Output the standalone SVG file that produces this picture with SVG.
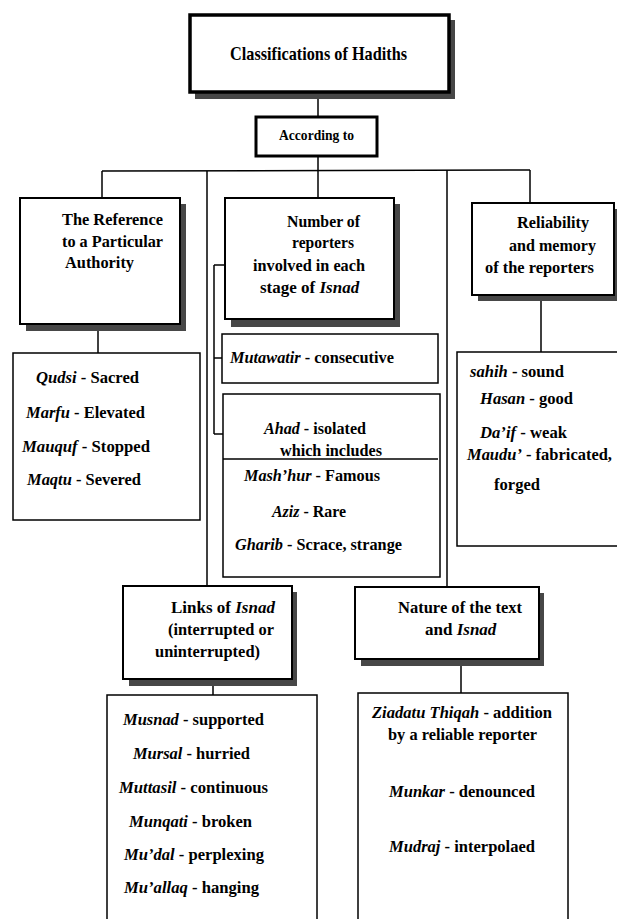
<svg xmlns="http://www.w3.org/2000/svg" width="617" height="919" viewBox="0 0 617 919">
<style>
text{font-family:"Liberation Serif","Times New Roman",serif;font-weight:bold;fill:#000}
.t{font-size:19px}
.a{font-size:15px}
.h{font-size:17.5px}
.hn{font-size:17px}
.s{font-size:16.5px}
.i{font-style:italic}
.box{fill:#fff;stroke:#000;stroke-width:2}
.cbox{fill:#fff;stroke:#000;stroke-width:1.5}
.sh{fill:#474747}
.ln{stroke:#000;stroke-width:1.5;fill:none}
</style>
<rect width="617" height="919" fill="#fff"/>
<g id="connectors" class="ln">
<line x1="318" y1="92" x2="318" y2="117"/>
<line x1="318" y1="156" x2="318" y2="198"/>
<line x1="102" y1="171" x2="530" y2="170"/>
<line x1="102" y1="171" x2="102" y2="198"/>
<line x1="530" y1="170" x2="530" y2="203"/>
<line x1="207" y1="171" x2="207" y2="586"/>
<line x1="447" y1="170" x2="447" y2="587"/>
<line x1="98" y1="330" x2="98" y2="353"/>
<line x1="214" y1="265" x2="214" y2="434"/>
<line x1="214" y1="265" x2="225" y2="265"/>
<line x1="214" y1="358" x2="222" y2="358"/>
<line x1="214" y1="434" x2="223" y2="434"/>
<line x1="541" y1="300" x2="541" y2="352"/>
<line x1="213" y1="685" x2="213" y2="695"/>
<line x1="461" y1="665" x2="461" y2="693"/>
</g>
<g id="title">
<rect class="sh" x="195" y="20" width="260" height="79"/>
<rect x="190" y="15" width="259" height="77" fill="#fff" stroke="#000" stroke-width="3.5"/>
<text class="t" x="230" y="60" textLength="177" lengthAdjust="spacingAndGlyphs">Classifications of Hadiths</text>
</g>
<g id="according">
<rect x="256" y="117" width="121" height="39" fill="#fff" stroke="#000" stroke-width="3"/>
<text class="a" x="279" y="140" textLength="75" lengthAdjust="spacingAndGlyphs">According to</text>
</g>
<g id="reference">
<rect class="sh" x="26" y="204" width="160" height="127"/>
<rect class="box" x="20" y="198" width="160" height="126"/>
<text class="h" x="62" y="225" textLength="101" lengthAdjust="spacingAndGlyphs">The Reference</text>
<text class="h" x="62" y="247" textLength="101" lengthAdjust="spacingAndGlyphs">to a Particular</text>
<text class="h" x="65" y="268" textLength="69" lengthAdjust="spacingAndGlyphs">Authority</text>
</g>
<g id="number">
<rect class="sh" x="231" y="204" width="169" height="123"/>
<rect class="box" x="225" y="198" width="169" height="121"/>
<text class="h" x="287" y="227" textLength="73" lengthAdjust="spacingAndGlyphs">Number of</text>
<text class="h" x="292" y="248" textLength="62" lengthAdjust="spacingAndGlyphs">reporters</text>
<text class="h" x="253" y="271" textLength="112" lengthAdjust="spacingAndGlyphs">involved in each</text>
<text class="hn" x="260" y="293">stage of <tspan class="i">Isnad</tspan></text>
</g>
<g id="reliability">
<rect class="sh" x="478" y="209" width="139" height="92"/>
<rect class="box" x="472" y="203" width="142" height="92"/>
<text class="h" x="517" y="228" textLength="72" lengthAdjust="spacingAndGlyphs">Reliability</text>
<text class="h" x="509" y="251" textLength="87" lengthAdjust="spacingAndGlyphs">and memory</text>
<text class="h" x="485" y="273" textLength="109" lengthAdjust="spacingAndGlyphs">of the reporters</text>
</g>
<g id="reference-list">
<rect class="cbox" x="13" y="353" width="187" height="167"/>
<text class="s" x="36" y="383" textLength="103" lengthAdjust="spacingAndGlyphs"><tspan class="i">Qudsi</tspan> - Sacred</text>
<text class="s" x="26" y="418" textLength="119" lengthAdjust="spacingAndGlyphs"><tspan class="i">Marfu</tspan> - Elevated</text>
<text class="s" x="22" y="452" textLength="128" lengthAdjust="spacingAndGlyphs"><tspan class="i">Mauquf</tspan> - Stopped</text>
<text class="s" x="27" y="485" textLength="114" lengthAdjust="spacingAndGlyphs"><tspan class="i">Maqtu</tspan> - Severed</text>
</g>
<g id="mutawatir">
<rect class="cbox" x="222" y="334" width="216" height="49"/>
<text class="s" x="230" y="363" textLength="164" lengthAdjust="spacingAndGlyphs"><tspan class="i">Mutawatir</tspan> - consecutive</text>
</g>
<g id="ahad">
<rect class="cbox" x="223" y="394" width="217" height="183"/>
<line class="ln" x1="223" y1="459" x2="438" y2="459"/>
<text class="s" x="264" y="434" textLength="102" lengthAdjust="spacingAndGlyphs"><tspan class="i">Ahad</tspan> - isolated</text>
<text class="s" x="280" y="456" textLength="102" lengthAdjust="spacingAndGlyphs">which includes</text>
<text class="s" x="244" y="481" textLength="136" lengthAdjust="spacingAndGlyphs"><tspan class="i">Mash’hur</tspan> - Famous</text>
<text class="s" x="272" y="517" textLength="74" lengthAdjust="spacingAndGlyphs"><tspan class="i">Aziz</tspan> - Rare</text>
<text class="s" x="235" y="550" textLength="167" lengthAdjust="spacingAndGlyphs"><tspan class="i">Gharib</tspan> - Scrace, strange</text>
</g>
<g id="reliability-list">
<rect class="cbox" x="457" y="352" width="165" height="194"/>
<text class="s" x="470" y="377" textLength="94" lengthAdjust="spacingAndGlyphs"><tspan class="i">sahih</tspan> - sound</text>
<text class="s" x="480" y="404" textLength="93" lengthAdjust="spacingAndGlyphs"><tspan class="i">Hasan</tspan> - good</text>
<text class="s" x="480" y="438" textLength="87" lengthAdjust="spacingAndGlyphs"><tspan class="i">Da’if</tspan> - weak</text>
<text class="s" x="467" y="460" textLength="145" lengthAdjust="spacingAndGlyphs"><tspan class="i">Maudu’</tspan> - fabricated,</text>
<text class="s" x="494" y="490" textLength="46" lengthAdjust="spacingAndGlyphs">forged</text>
</g>
<g id="links">
<rect class="sh" x="129" y="592" width="168" height="94"/>
<rect class="box" x="123" y="586" width="169" height="93"/>
<text class="hn" x="171" y="613">Links of <tspan class="i">Isnad</tspan></text>
<text class="h" x="168" y="635" textLength="106" lengthAdjust="spacingAndGlyphs">(interrupted or</text>
<text class="h" x="155" y="657" textLength="105" lengthAdjust="spacingAndGlyphs">uninterrupted)</text>
</g>
<g id="nature">
<rect class="sh" x="361" y="593" width="183" height="73"/>
<rect class="box" x="355" y="587" width="184" height="72"/>
<text class="h" x="398" y="613" textLength="124" lengthAdjust="spacingAndGlyphs">Nature of the text</text>
<text class="hn" x="425" y="635">and <tspan class="i">Isnad</tspan></text>
</g>
<g id="links-list">
<rect class="cbox" x="107" y="695" width="210" height="235"/>
<text class="s" x="123" y="725" textLength="141" lengthAdjust="spacingAndGlyphs"><tspan class="i">Musnad</tspan> - supported</text>
<text class="s" x="133" y="759" textLength="117" lengthAdjust="spacingAndGlyphs"><tspan class="i">Mursal</tspan> - hurried</text>
<text class="s" x="119" y="793" textLength="149" lengthAdjust="spacingAndGlyphs"><tspan class="i">Muttasil</tspan> - continuous</text>
<text class="s" x="129" y="827" textLength="123" lengthAdjust="spacingAndGlyphs"><tspan class="i">Munqati</tspan> - broken</text>
<text class="s" x="124" y="860" textLength="140" lengthAdjust="spacingAndGlyphs"><tspan class="i">Mu’dal</tspan> - perplexing</text>
<text class="s" x="124" y="893" textLength="135" lengthAdjust="spacingAndGlyphs"><tspan class="i">Mu’allaq</tspan> - hanging</text>
</g>
<g id="nature-list">
<rect class="cbox" x="358" y="693" width="210" height="237"/>
<text class="s" x="372" y="718" textLength="180" lengthAdjust="spacingAndGlyphs"><tspan class="i">Ziadatu Thiqah</tspan> - addition</text>
<text class="s" x="388" y="740" textLength="149" lengthAdjust="spacingAndGlyphs">by a reliable reporter</text>
<text class="s" x="389" y="797" textLength="146" lengthAdjust="spacingAndGlyphs"><tspan class="i">Munkar</tspan> - denounced</text>
<text class="s" x="389" y="852" textLength="146" lengthAdjust="spacingAndGlyphs"><tspan class="i">Mudraj</tspan> - interpolaed</text>
</g>
</svg>
